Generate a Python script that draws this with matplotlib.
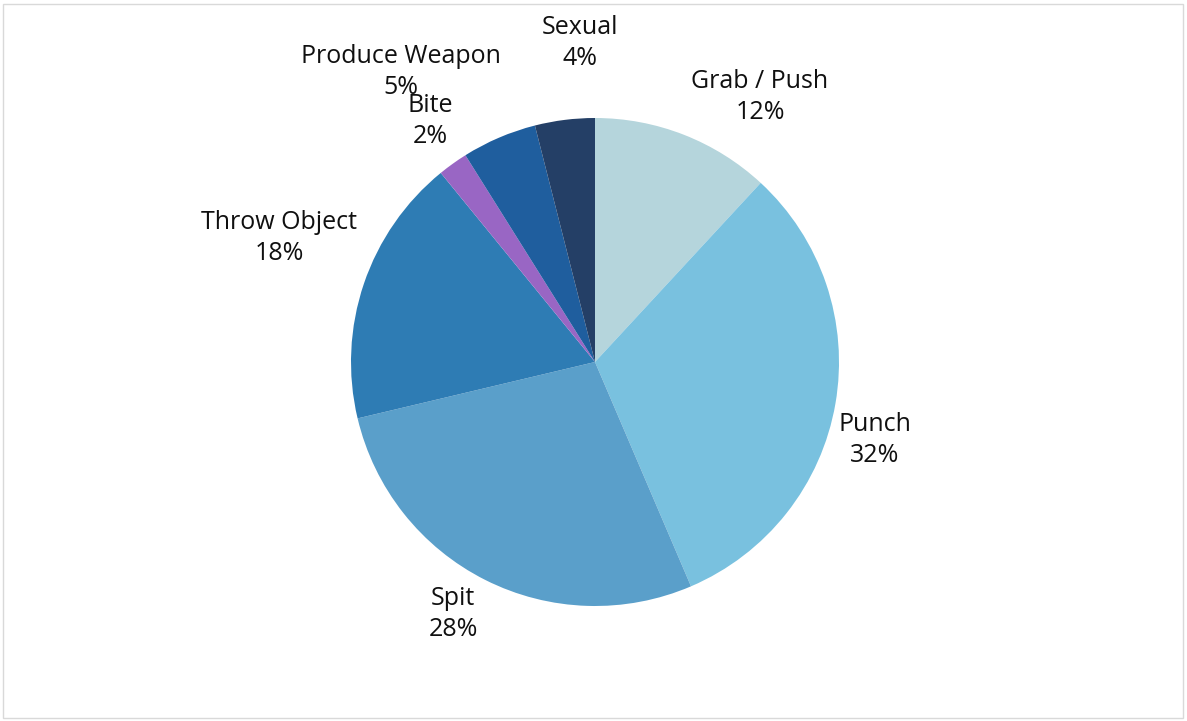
import numpy as np
import matplotlib.pyplot as plt
from matplotlib.patches import Rectangle

# assault types, clockwise from 12 o'clock
categories = ['Grab / Push', 'Punch', 'Spit', 'Throw Object', 'Bite', 'Produce Weapon', 'Sexual']
percent = [12, 32, 28, 18, 2, 5, 4]

colors = ['#b5d5dc', '#79c1df', '#5a9fca', '#2e7cb4', '#9966c4', '#1f5e9e', '#243f66']
# label centres in units of the pie radius
label_xy = [(0.676, 1.086), (1.148, -0.32), (-0.582, -1.033), (-1.295, 0.508),
            (-0.676, 0.988), (-0.795, 1.189), (-0.06, 1.307)]

W, H = 1187, 721
cx, cy, r = 595, 362, 244

fig = plt.figure(figsize=(W / 100, H / 100), dpi=100)
ax = fig.add_axes([0, 0, 1, 1])

ax.pie(percent, colors=colors, startangle=90, counterclock=False, radius=1,
       wedgeprops=dict(linewidth=0), frame=True)
ax.set_xlim(-cx / r, (W - cx) / r)
ax.set_ylim(-(H - cy) / r, cy / r)
ax.set_aspect('auto')
ax.axis('off')

for name, p, (x, y) in zip(categories, percent, label_xy):
    ax.text(x, y, f'{name}\n{p}%', ha='center', va='center', fontsize=18,
            family='Open Sans', color='#101010', linespacing=1.3)

# thin grey frame round the chart area
fig.patches.append(Rectangle((3 / W, 3 / H), 1 - 7 / W, 1 - 7 / H, transform=fig.transFigure,
                             fill=False, edgecolor='#d9d9d9', linewidth=1))

fig.savefig('out.png', dpi=100, facecolor='white')
